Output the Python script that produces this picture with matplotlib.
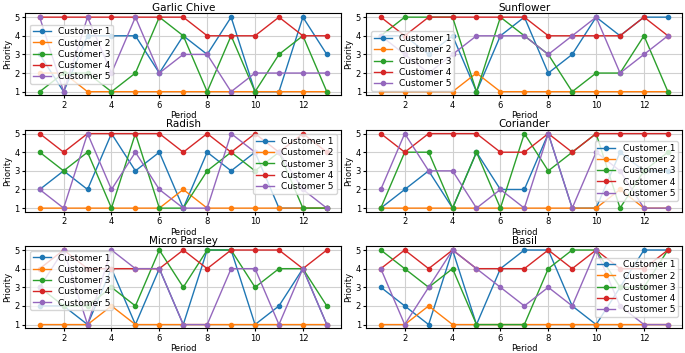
import matplotlib
matplotlib.use("Agg")
import matplotlib.pyplot as plt

periods = list(range(1, 14))
customers = ["Customer 1", "Customer 2", "Customer 3", "Customer 4", "Customer 5"]

garlic_chive = [
    [3, 1, 4, 4, 4, 2, 4, 3, 5, 1, 1, 5, 3],
    [2, 2, 1, 1, 1, 1, 1, 1, 1, 1, 1, 1, 1],
    [1, 2, 2, 1, 2, 5, 4, 1, 4, 1, 3, 4, 1],
    [5, 5, 5, 5, 5, 5, 5, 4, 4, 4, 5, 4, 4],
    [5, 1, 5, 2, 5, 2, 3, 3, 1, 2, 2, 2, 2],
]
sunflower = [
    [4, 4, 3, 4, 1, 4, 5, 2, 3, 5, 4, 5, 5],
    [1, 1, 1, 1, 2, 1, 1, 1, 1, 1, 1, 1, 1],
    [4, 5, 5, 5, 1, 5, 4, 3, 1, 2, 2, 4, 1],
    [5, 4, 5, 5, 5, 5, 5, 4, 4, 4, 4, 5, 4],
    [4, 3, 2, 3, 4, 4, 4, 3, 4, 5, 2, 3, 4],
]
radish = [
    [2, 3, 2, 5, 3, 4, 1, 4, 3, 4, 1, 1, 1],
    [1, 1, 1, 1, 1, 1, 2, 1, 1, 1, 1, 1, 1],
    [4, 3, 4, 1, 5, 1, 1, 3, 4, 3, 4, 1, 1],
    [5, 4, 5, 5, 5, 5, 4, 5, 4, 5, 4, 5, 4],
    [2, 1, 5, 2, 4, 2, 1, 1, 5, 4, 4, 2, 1],
]
coriander = [
    [1, 2, 3, 1, 4, 2, 2, 5, 1, 1, 4, 3, 3],
    [1, 1, 1, 1, 1, 1, 1, 1, 1, 1, 2, 1, 1],
    [1, 4, 4, 1, 4, 1, 5, 3, 4, 5, 1, 3, 4],
    [5, 4, 5, 5, 5, 4, 4, 5, 4, 5, 5, 5, 5],
    [2, 5, 3, 3, 1, 2, 1, 5, 1, 4, 3, 1, 1],
]
micro_parsley = [
    [2, 2, 1, 4, 1, 4, 1, 5, 5, 1, 2, 4, 1],
    [1, 1, 1, 2, 1, 1, 1, 1, 1, 1, 1, 1, 1],
    [3, 2, 2, 3, 2, 5, 3, 5, 5, 3, 4, 4, 2],
    [4, 5, 4, 4, 4, 4, 5, 4, 5, 5, 5, 4, 5],
    [3, 5, 1, 5, 4, 4, 1, 1, 4, 4, 1, 4, 1],
]
basil = [
    [3, 2, 1, 5, 1, 4, 5, 5, 2, 1, 3, 5, 5],
    [1, 1, 2, 1, 1, 1, 1, 1, 1, 1, 1, 1, 1],
    [5, 4, 3, 4, 1, 1, 1, 4, 5, 5, 3, 3, 5],
    [4, 5, 4, 5, 4, 4, 4, 5, 4, 5, 4, 4, 5],
    [4, 1, 3, 5, 4, 3, 2, 3, 2, 5, 2, 1, 1],
]

crops = [
    ("Garlic Chive", garlic_chive, "center left"),
    ("Sunflower", sunflower, "lower left"),
    ("Radish", radish, "upper right"),
    ("Coriander", coriander, "center right"),
    ("Micro Parsley", micro_parsley, "upper left"),
    ("Basil", basil, "center right"),
]

fig, axes = plt.subplots(3, 2, figsize=(6.85, 3.53), dpi=100)

for ax, (name, data, loc) in zip(axes.flat, crops):
    for label, values in zip(customers, data):
        ax.plot(periods, values, marker="o", markersize=3, linewidth=1, label=label)
    ax.set_title(name, fontsize=7.5, pad=2)
    ax.set_xlabel("Period", fontsize=6, labelpad=1)
    ax.set_ylabel("Priority", fontsize=6, labelpad=2)
    ax.set_yticks([1, 2, 3, 4, 5])
    ax.set_xticks([2, 4, 6, 8, 10, 12])
    ax.tick_params(labelsize=6, pad=1.5, length=2.5)
    ax.grid(True, color="#d0d0d0")
    ax.legend(loc=loc, fontsize=6.5, handlelength=2, borderpad=0.3, labelspacing=0.25)

plt.subplots_adjust(left=0.037, right=0.996, top=0.962, bottom=0.07, hspace=0.42, wspace=0.08)
plt.savefig("out.png")
